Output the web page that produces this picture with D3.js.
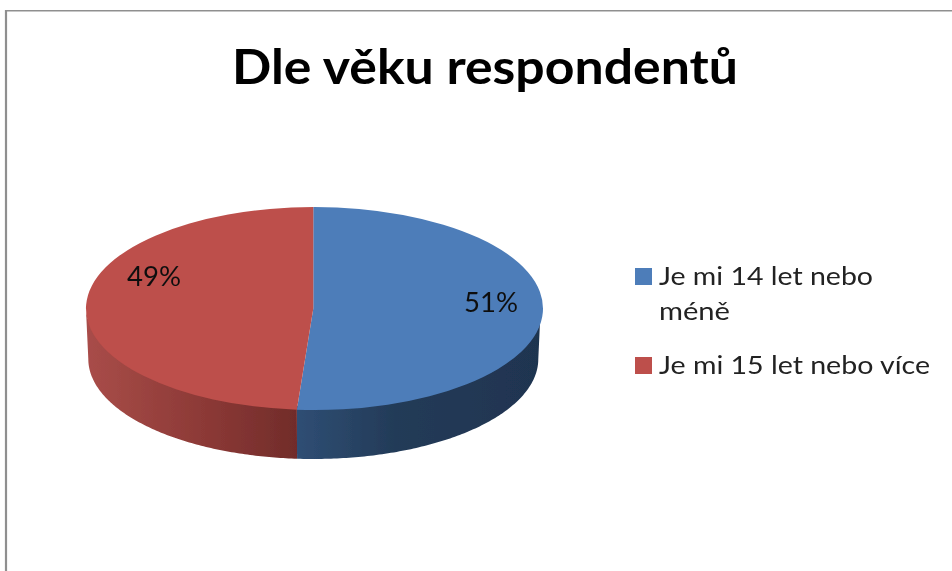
<!DOCTYPE html>
<html><head><meta charset="utf-8">
<script src="https://cdnjs.cloudflare.com/ajax/libs/d3/7.8.5/d3.min.js"></script>
<style>html,body{margin:0;padding:0;background:#fff;overflow:hidden}svg{display:block}</style>
</head><body><svg id="c" width="952" height="571"></svg>
<script>
const titleText = "Dle věku respondentů";
const categories = ["Je mi 14 let nebo méně", "Je mi 15 let nebo více"];
const legendLines = [["Je mi 14 let nebo", "méně"], ["Je mi 15 let nebo více"]];
const values = [51.15, 48.85];
const topColors = ["#4d7db9", "#bd4f4b"];
const sideStops = [
  [["0", "#2f4e74"], ["0.4", "#233b58"], ["1", "#1f3450"]],
  [["0", "#a94d49"], ["0.6", "#8a3835"], ["1", "#712c2a"]]
];

const svg = d3.select("#c");
const cx = 313.3, cy = 308.5, rx = 228.5, ry = 101.5;
const rxBottom = 225, ryBottom = 100, cyBottom = 359;
const defs = svg.append("defs");
defs.append("filter").attr("id","soft").attr("filterUnits","userSpaceOnUse")
  .attr("x",0).attr("y",0).attr("width",952).attr("height",571)
  .append("feGaussianBlur").attr("stdDeviation",0.7);

// frame
const frame = svg.append("g").attr("fill","none").attr("stroke","#8f8f8f");
frame.append("line").attr("x1",6).attr("x2",6).attr("y1",10).attr("y2",571).attr("stroke-width",2.2);
frame.append("line").attr("x1",5).attr("x2",952).attr("y1",10.7).attr("y2",10.7).attr("stroke-width",1.6);

const root = svg.append("g").attr("filter","url(#soft)");

// pie layout
const pie = d3.pie().sort(null).value(d => d);
const arcs = pie(values);

// side walls: top rim (pulled slightly under the top face) joined to a slightly smaller bottom rim
const rim = (a, rxx, ryy, cyy) => [cx + rxx*Math.sin(a), cyy - ryy*Math.cos(a)];
const wallLine = d3.line();
arcs.forEach((d,i) => {
  const id = "side"+i;
  const x0 = i===0 ? rim(d.endAngle,rx,ry,cy)[0] : cx-rx;
  const x1 = i===0 ? cx+rx : rim(d.startAngle,rx,ry,cy)[0];
  const g = defs.append("linearGradient").attr("id",id).attr("gradientUnits","userSpaceOnUse")
    .attr("x1",x0).attr("x2",x1).attr("y1",0).attr("y2",0);
  sideStops[i].forEach(s => g.append("stop").attr("offset",s[0]).attr("stop-color",s[1]));
  const lo = i===0 ? Math.PI/2 : d.startAngle;
  const hi = i===0 ? d.endAngle : Math.PI*1.5;
  const angles = d3.range(0,121).map(k => lo+(hi-lo)*k/120);
  const upper = angles.map(a => rim(a,rx-1,ry-1,cy-3));
  const lower = angles.map(a => rim(a,rxBottom,ryBottom,cyBottom)).reverse();
  root.append("path").attr("d", wallLine(upper.concat(lower))+"Z")
    .attr("fill","url(#"+id+")");
});

// top face
const arc = d3.arc().innerRadius(0).outerRadius(1);
const topFace = root.append("g").attr("transform",`translate(${cx},${cy}) scale(${rx},${ry})`);
topFace.selectAll("path").data(arcs).join("path").attr("d",arc).attr("fill",(d,i)=>topColors[i]);

// title
const font = "Lato,'Open Sans',sans-serif";
root.append("text").text(titleText).attr("x",232).attr("y",84)
  .attr("font-family",font).attr("font-weight",700).attr("font-size",48)
  .attr("textLength",506).attr("lengthAdjust","spacingAndGlyphs").attr("fill","#000");

// data labels
const labelPos = [[464,312],[127,286]];
root.selectAll("text.pct").data(arcs).join("text").attr("class","pct")
  .text(d => Math.round(d.data)+"%")
  .attr("x",(d,i)=>labelPos[i][0]).attr("y",(d,i)=>labelPos[i][1])
  .attr("font-family",font).attr("font-size",26).attr("fill","#111")
  .attr("textLength",54).attr("lengthAdjust","spacingAndGlyphs");

// legend
const legendY = [[285,320],[374]];
const legendW = [[214,71],[271]];
categories.forEach((c,i) => {
  root.append("rect").attr("x",635).attr("y",legendY[i][0]-17).attr("width",17).attr("height",17).attr("fill",topColors[i]);
  legendLines[i].forEach((t,j) => {
    root.append("text").text(t).attr("x",659).attr("y",legendY[i][j])
      .attr("font-family",font).attr("font-size",25.5).attr("fill","#222")
      .attr("textLength",legendW[i][j]).attr("lengthAdjust","spacingAndGlyphs");
  });
});
</script></body></html>
